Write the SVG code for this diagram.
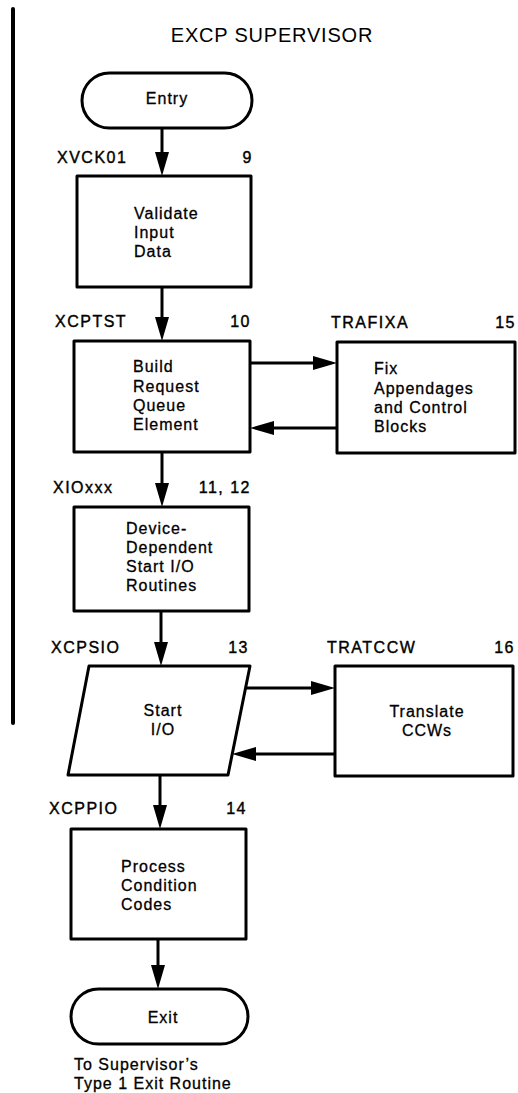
<svg xmlns="http://www.w3.org/2000/svg" width="518" height="1093" viewBox="0 0 518 1093">
<style>
.box{fill:#fff;stroke:#000;stroke-width:3;stroke-linejoin:round}
.t{font-family:"Liberation Sans",Arial,sans-serif;font-size:16px;letter-spacing:1px;fill:#000;stroke:#000;stroke-width:0.3}
.lbl{font-family:"Liberation Sans",Arial,sans-serif;font-size:16px;letter-spacing:1.5px;fill:#000;stroke:#000;stroke-width:0.4}
.title{font-family:"Liberation Sans",Arial,sans-serif;font-size:20px;letter-spacing:0.8px;fill:#000}
.c{text-anchor:middle}
.e{text-anchor:end}
.conn line{stroke:#000;stroke-width:3;marker-end:url(#ah)}
</style>
<defs>
<marker id="ah" markerUnits="userSpaceOnUse" markerWidth="24" markerHeight="14" refX="14" refY="7" orient="auto">
<path d="M0,0 L24,7 L0,14 z" fill="#000"/>
</marker>
</defs>
<rect x="11" y="7" width="4" height="718" rx="2" fill="#000"/>
<text class="title c" x="272" y="42">EXCP SUPERVISOR</text>

<g id="conns" class="conn">
<line x1="162" y1="128" x2="162" y2="166"/>
<line x1="162" y1="287" x2="162" y2="331"/>
<line x1="250" y1="363" x2="327" y2="363"/>
<line x1="337" y1="428" x2="260" y2="428"/>
<line x1="162" y1="452" x2="162" y2="497"/>
<line x1="161" y1="611" x2="161" y2="656"/>
<line x1="245.6" y1="688" x2="325" y2="688"/>
<line x1="335" y1="754" x2="242" y2="754"/>
<line x1="160" y1="775" x2="160" y2="819"/>
<line x1="158" y1="939" x2="158" y2="979"/>
</g>

<g id="entry">
<rect class="box" x="82" y="73" width="170" height="55" rx="27.5"/>
<text class="t c" x="167" y="104">Entry</text>
</g>

<g id="xvck01">
<text class="lbl" x="57" y="163">XVCK01</text>
<text class="lbl e" x="253" y="163">9</text>
<rect class="box" x="77" y="176" width="174" height="111"/>
<text class="t" x="134" y="219">Validate</text>
<text class="t" x="134" y="238">Input</text>
<text class="t" x="134" y="257">Data</text>
</g>

<g id="xcptst">
<text class="lbl" x="55" y="327">XCPTST</text>
<text class="lbl e" x="251" y="327">10</text>
<rect class="box" x="74" y="341" width="176" height="111"/>
<text class="t" x="133" y="372">Build</text>
<text class="t" x="133" y="392">Request</text>
<text class="t" x="133" y="411">Queue</text>
<text class="t" x="133" y="430">Element</text>
</g>

<g id="trafixa">
<text class="lbl" x="331" y="328">TRAFIXA</text>
<text class="lbl e" x="516" y="328">15</text>
<rect class="box" x="337" y="342" width="178" height="111"/>
<text class="t" x="374" y="374">Fix</text>
<text class="t" x="374" y="394">Appendages</text>
<text class="t" x="374" y="413">and Control</text>
<text class="t" x="374" y="432">Blocks</text>
</g>

<g id="xioxxx">
<text class="lbl" x="53" y="493">XIOxxx</text>
<text class="lbl e" x="251" y="493">11, 12</text>
<rect class="box" x="74" y="507" width="175" height="104"/>
<text class="t" x="126" y="534">Device-</text>
<text class="t" x="126" y="553">Dependent</text>
<text class="t" x="126" y="572">Start I/O</text>
<text class="t" x="126" y="591">Routines</text>
</g>

<g id="xcpsio">
<text class="lbl" x="51" y="653">XCPSIO</text>
<text class="lbl e" x="249" y="653">13</text>
<polygon class="box" points="89,666 250,666 228,775 68,775"/>
<text class="t c" x="163" y="716">Start</text>
<text class="t c" x="163" y="735">I/O</text>
</g>

<g id="tratccw">
<text class="lbl" x="327" y="653">TRATCCW</text>
<text class="lbl e" x="515" y="653">16</text>
<rect class="box" x="335" y="666" width="178" height="110"/>
<text class="t c" x="427" y="717">Translate</text>
<text class="t c" x="427" y="736">CCWs</text>
</g>

<g id="xcppio">
<text class="lbl" x="49" y="814">XCPPIO</text>
<text class="lbl e" x="247" y="814">14</text>
<rect class="box" x="71" y="829" width="175" height="110"/>
<text class="t" x="121" y="872">Process</text>
<text class="t" x="121" y="891">Condition</text>
<text class="t" x="121" y="910">Codes</text>
</g>

<g id="exit">
<rect class="box" x="71" y="989" width="177" height="55" rx="27.5"/>
<text class="t c" x="163" y="1023">Exit</text>
<text class="t" x="74" y="1070">To Supervisor’s</text>
<text class="t" x="74" y="1089">Type 1 Exit Routine</text>
</g>
</svg>
